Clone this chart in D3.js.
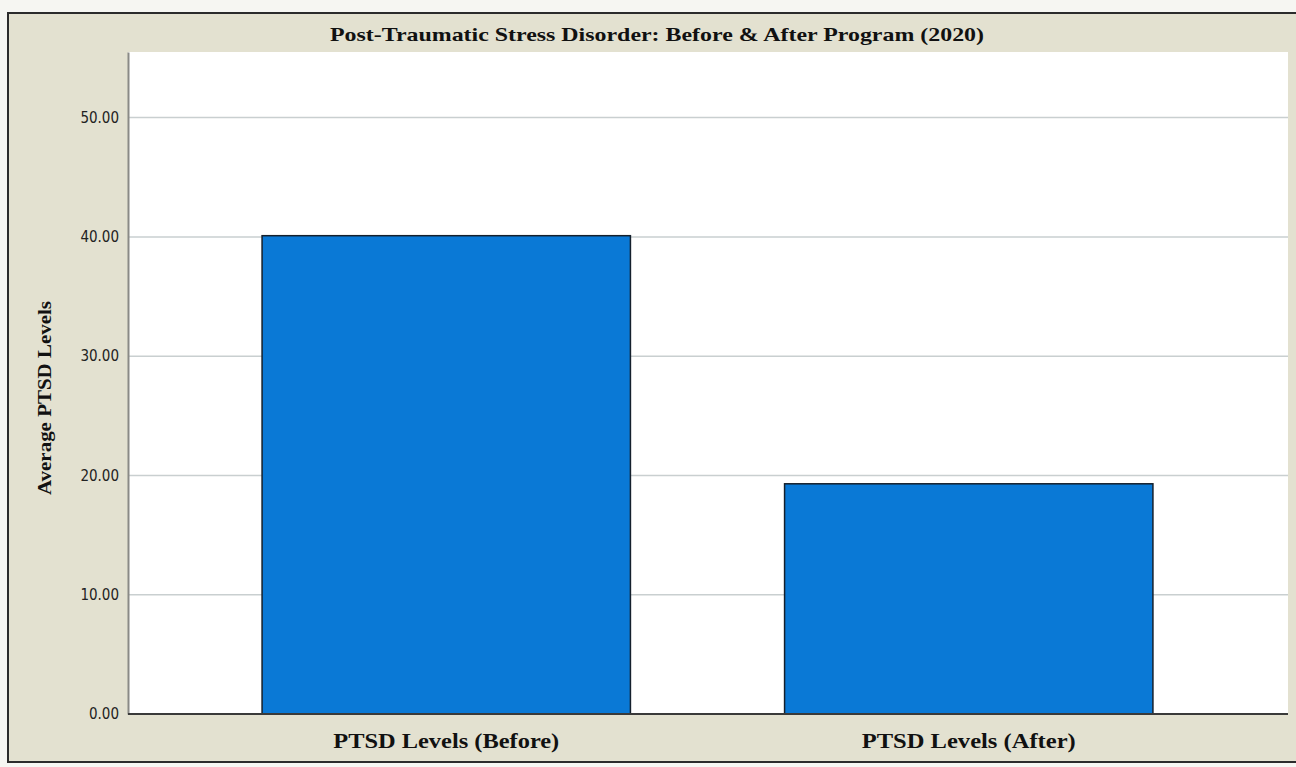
<!DOCTYPE html>
<html>
<head>
<meta charset="utf-8">
<script src="https://cdn.jsdelivr.net/npm/d3@7/dist/d3.min.js"></script>
<style>
  html, body { margin: 0; padding: 0; background: #f6f6f2; }
  svg { display: block; }
</style>
</head>
<body>
<svg id="chart"></svg>
<script>
// chart data
var categories = ["PTSD Levels (Before)", "PTSD Levels (After)"];
var values = [40.1, 19.3];
var yTicks = [0, 10, 20, 30, 40, 50];
var title = "Post-Traumatic Stress Disorder: Before & After Program (2020)";
var yLabel = "Average PTSD Levels";

var width = 1296, height = 767;
var plot = { left: 128, right: 1288, top: 52, bottom: 714 };
var serif = "'Liberation Serif', 'Times New Roman', serif";

var svg = d3.select("#chart")
  .attr("width", width)
  .attr("height", height);

// beige frame
svg.append("rect")
  .attr("x", 8).attr("y", 13)
  .attr("width", 1300).attr("height", 749)
  .attr("fill", "#e3e1d0")
  .attr("stroke", "#2b2b2b")
  .attr("stroke-width", 2);

// white plot area
svg.append("rect")
  .attr("x", plot.left).attr("y", plot.top)
  .attr("width", plot.right - plot.left)
  .attr("height", plot.bottom - plot.top)
  .attr("fill", "#ffffff");

var y = d3.scaleLinear()
  .domain([0, 55.5])
  .range([plot.bottom, plot.top]);

var x = d3.scaleBand()
  .domain(categories)
  .range([185, 1230])
  .paddingInner(0.295)
  .paddingOuter(0.1475);

// gridlines
svg.append("g")
  .selectAll("line")
  .data(yTicks.filter(d => d > 0))
  .enter()
  .append("line")
  .attr("x1", plot.left).attr("x2", plot.right)
  .attr("y1", d => y(d)).attr("y2", d => y(d))
  .attr("stroke", "#c9cfd0")
  .attr("stroke-width", 1.5);

// y axis
var yAxis = svg.append("g")
  .attr("transform", `translate(${plot.left},0)`)
  .call(d3.axisLeft(y).tickValues(yTicks).tickFormat(d3.format(".2f")).tickSize(0).tickPadding(9));
yAxis.select(".domain")
  .attr("stroke", "#8a8a86")
  .attr("stroke-width", 2);
yAxis.selectAll("text")
  .style("font-family", "'DejaVu Sans Condensed', 'DejaVu Sans', sans-serif")
  .style("font-size", "15px")
  .attr("fill", "#222");

// bars
svg.append("g")
  .selectAll("rect")
  .data(values)
  .enter()
  .append("rect")
  .attr("x", (d, i) => x(categories[i]))
  .attr("width", x.bandwidth())
  .attr("y", d => y(d))
  .attr("height", d => y(0) - y(d))
  .attr("fill", "#0a79d6")
  .attr("stroke", "#15202c")
  .attr("stroke-width", 1.5);

// x axis
var xAxis = svg.append("g")
  .attr("transform", `translate(0,${plot.bottom})`)
  .call(d3.axisBottom(x).tickSize(0).tickPadding(20));
xAxis.select(".domain")
  .attr("d", `M${plot.left},0H${plot.right}`)
  .attr("stroke", "#3a3a3a")
  .attr("stroke-width", 2);
xAxis.selectAll("text")
  .style("font-family", serif)
  .style("font-weight", "bold")
  .style("font-size", "20px")
  .attr("fill", "#111")
  .attr("textLength", (d, i) => i === 0 ? 226 : 214)
  .attr("lengthAdjust", "spacingAndGlyphs");

// title
svg.append("text")
  .attr("x", 657).attr("y", 41)
  .attr("text-anchor", "middle")
  .style("font-family", serif)
  .style("font-weight", "bold")
  .style("font-size", "19px")
  .attr("fill", "#111")
  .attr("textLength", 654)
  .attr("lengthAdjust", "spacingAndGlyphs")
  .text(title);

// y label
svg.append("text")
  .attr("transform", "translate(51,398) rotate(-90)")
  .attr("text-anchor", "middle")
  .style("font-family", serif)
  .style("font-weight", "bold")
  .style("font-size", "19px")
  .attr("fill", "#111")
  .attr("textLength", 194)
  .attr("lengthAdjust", "spacingAndGlyphs")
  .text(yLabel);
</script>
</body>
</html>
